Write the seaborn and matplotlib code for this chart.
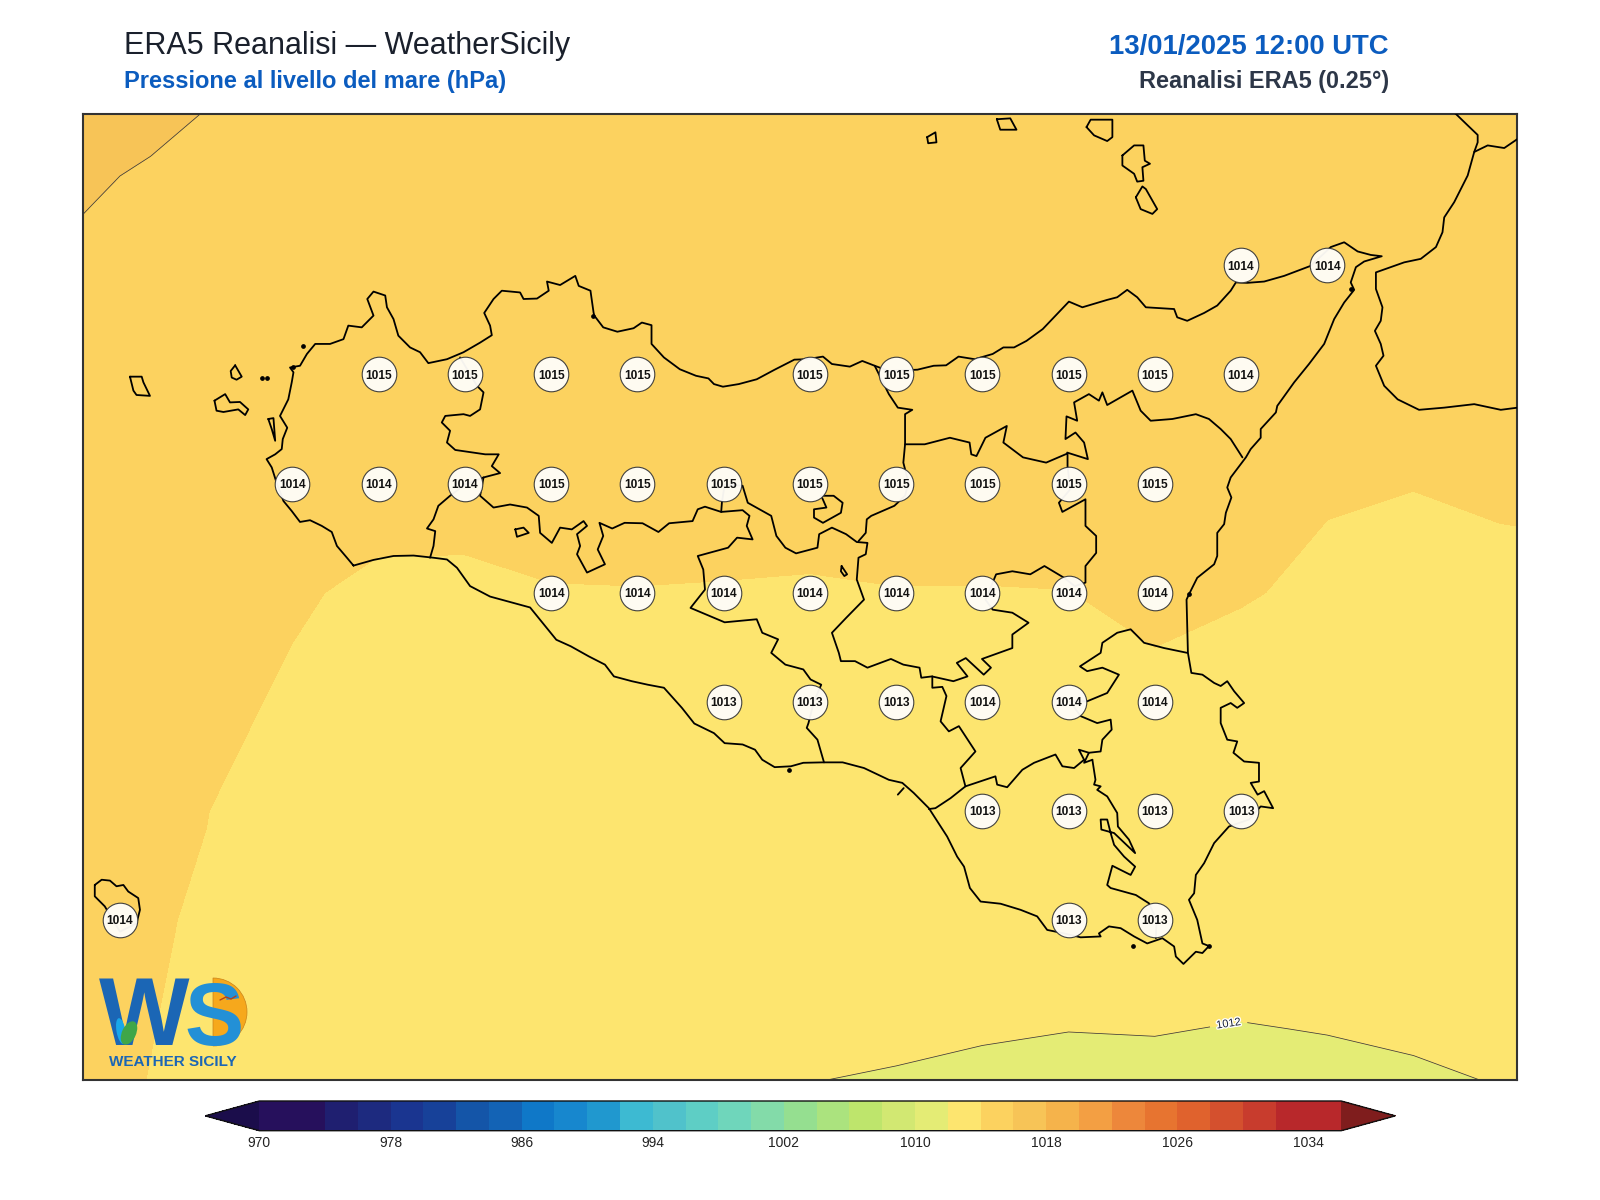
import numpy as np
import pandas as pd
import seaborn as sns
import matplotlib.pyplot as plt
import matplotlib.patheffects as pe
from matplotlib.colors import ListedColormap, BoundaryNorm
from matplotlib.patches import Wedge, Ellipse

# sea level pressure (hPa) on the 0.25 degree grid
grid_lon = [11.75, 12.0, 12.25, 12.5, 12.75, 13.0, 13.25, 13.5, 13.75, 14.0, 14.25, 14.5, 14.75, 15.0, 15.25, 15.5, 15.75, 16.0, 16.25]
grid_lat = [36.25, 36.5, 36.75, 37.0, 37.25, 37.5, 37.75, 38.0, 38.25, 38.5, 38.75]
slp_3625 = [1014.2, 1014.05, 1013.76, 1013.0, 1012.7, 1012.5, 1012.4, 1012.3, 1012.05, 1011.75, 1011.61, 1011.44, 1011.3, 1011.31, 1011.3, 1011.33, 1011.535, 1011.74, 1011.95]
slp_3650 = [1014.3, 1014.1, 1013.86, 1013.1, 1012.8, 1012.6, 1012.5, 1012.4, 1012.4, 1012.25, 1012.2, 1012.1, 1012.02, 1012.05, 1011.95, 1012.04, 1012.15, 1012.3, 1012.4]
slp_3675 = [1014.4, 1014.3, 1013.85, 1013.2, 1012.9, 1012.8, 1012.8, 1012.8, 1012.8, 1012.8, 1012.8, 1012.8, 1012.7, 1012.7, 1012.7, 1012.7, 1012.7, 1012.7, 1012.8]
slp_3700 = [1014.5, 1014.3, 1014.03, 1013.2, 1013.0, 1012.9, 1012.9, 1012.9, 1012.9, 1013.0, 1013.0, 1013.1, 1013.2, 1013.2, 1012.9, 1012.8, 1012.8, 1012.8, 1012.9]
slp_3725 = [1014.6, 1014.4, 1014.27, 1013.86, 1013.5, 1013.3, 1013.2, 1013.3, 1013.3, 1013.4, 1013.4, 1013.7, 1013.6, 1013.7, 1013.0, 1013.0, 1013.1, 1013.2, 1013.3]
slp_3750 = [1014.8, 1014.5, 1014.3, 1014.12, 1013.8, 1013.76, 1013.94, 1013.955, 1013.9, 1013.83, 1013.95, 1013.94, 1013.98, 1014.3, 1014.16, 1013.6, 1013.6, 1013.79, 1013.8]
slp_3775 = [1015.0, 1014.7, 1014.5, 1014.3, 1014.4, 1014.45, 1014.6, 1014.7, 1014.8, 1014.8, 1014.8, 1014.8, 1014.7, 1014.6, 1014.4, 1014.2, 1014.03, 1014.12, 1014.2]
slp_3800 = [1015.5, 1015.2, 1015.0, 1014.9, 1014.7, 1014.6, 1014.8, 1014.9, 1014.9, 1014.9, 1014.9, 1014.8, 1014.8, 1014.6, 1014.4, 1014.2, 1014.2, 1014.3, 1014.3]
slp_3825 = [1016.0, 1015.5, 1015.3, 1015.2, 1015.1, 1015.1, 1015.1, 1015.0, 1015.0, 1015.0, 1014.9, 1014.8, 1014.7, 1014.6, 1014.4, 1014.3, 1014.4, 1014.4, 1014.4]
slp_3850 = [1016.4, 1016.11, 1015.8, 1015.6, 1015.5, 1015.4, 1015.3, 1015.3, 1015.2, 1015.2, 1015.1, 1015.0, 1014.9, 1014.8, 1014.7, 1014.6, 1014.6, 1014.6, 1014.6]
slp_3875 = [1016.7, 1016.5, 1016.26, 1015.95, 1015.8, 1015.7, 1015.6, 1015.5, 1015.4, 1015.4, 1015.3, 1015.2, 1015.1, 1015.0, 1014.9, 1014.8, 1014.8, 1014.8, 1014.8]

# rounded values printed in the white discs
station_lon = [15.25, 15.5,
               12.75, 13.0, 13.25, 13.5, 14.0, 14.25, 14.5, 14.75, 15.0, 15.25,
               12.5, 12.75, 13.0, 13.25, 13.5, 13.75, 14.0, 14.25, 14.5, 14.75, 15.0,
               13.25, 13.5, 13.75, 14.0, 14.25, 14.5, 14.75, 15.0,
               13.75, 14.0, 14.25, 14.5, 14.75, 15.0,
               14.5, 14.75, 15.0, 15.25,
               12.0, 14.75, 15.0]
station_lat = [38.25, 38.25,
               38.0, 38.0, 38.0, 38.0, 38.0, 38.0, 38.0, 38.0, 38.0, 38.0,
               37.75, 37.75, 37.75, 37.75, 37.75, 37.75, 37.75, 37.75, 37.75, 37.75, 37.75,
               37.5, 37.5, 37.5, 37.5, 37.5, 37.5, 37.5, 37.5,
               37.25, 37.25, 37.25, 37.25, 37.25, 37.25,
               37.0, 37.0, 37.0, 37.0,
               36.75, 36.75, 36.75]
station_slp = [1014, 1014,
               1015, 1015, 1015, 1015, 1015, 1015, 1015, 1015, 1015, 1014,
               1014, 1014, 1014, 1015, 1015, 1015, 1015, 1015, 1015, 1015, 1015,
               1014, 1014, 1014, 1014, 1014, 1014, 1014, 1014,
               1013, 1013, 1013, 1014, 1014, 1014,
               1013, 1013, 1013, 1013,
               1014, 1013, 1013]

# colour of each 2 hPa band, 970 to 1036
band_colors = ['#26105C', '#26105C', '#1F1F70', '#1D2A7F', '#1A3590', '#174199', '#1455A8', '#1363B5',
               '#0F78C8', '#1787CE', '#2098CF', '#3DBAD2', '#50C2CB', '#5ECEC5', '#6FD6BB', '#83DBA9',
               '#95DF90', '#ABE37E', '#BEE56C', '#D2E872', '#E4EC75', '#FDE56F', '#FCD25F', '#F7C457',
               '#F5B34B', '#F39F43', '#ED873B', '#E77430', '#E0622D', '#D4502E', '#C83C2D', '#B8282B',
               '#B8282B']
levels = list(range(970, 1038, 2))
cbar_ticks = [970, 978, 986, 994, 1002, 1010, 1018, 1026, 1034]

# coast and province outlines (lon, lat)
sicily = [
    (12.677, 37.562), (12.658, 37.580), (12.629, 37.607), (12.614, 37.639), (12.585, 37.653), (12.551, 37.666),
    (12.522, 37.662), (12.498, 37.687), (12.474, 37.710), (12.454, 37.752), (12.440, 37.787), (12.425, 37.806),
    (12.450, 37.817), (12.469, 37.829), (12.472, 37.852), (12.485, 37.878), (12.464, 37.905), (12.488, 37.943),
    (12.498, 37.982), (12.503, 38.005), (12.493, 38.016), (12.522, 38.020), (12.542, 38.047), (12.566, 38.070),
    (12.609, 38.070), (12.648, 38.081), (12.662, 38.112), (12.701, 38.108), (12.735, 38.135), (12.717, 38.173),
    (12.735, 38.190), (12.769, 38.181), (12.774, 38.154), (12.793, 38.127), (12.807, 38.089), (12.841, 38.062),
    (12.870, 38.051), (12.894, 38.026), (12.948, 38.035), (12.996, 38.051), (13.044, 38.073), (13.078, 38.090),
    (13.073, 38.112), (13.056, 38.141), (13.083, 38.173), (13.107, 38.192), (13.160, 38.188), (13.170, 38.173),
    (13.209, 38.174), (13.243, 38.192), (13.238, 38.213), (13.276, 38.205), (13.320, 38.226), (13.330, 38.203),
    (13.364, 38.192), (13.373, 38.142), (13.375, 38.135), (13.401, 38.108), (13.442, 38.098), (13.489, 38.106),
    (13.513, 38.119), (13.541, 38.113), (13.541, 38.070), (13.577, 38.039), (13.623, 38.012), (13.670, 37.997),
    (13.706, 37.991), (13.722, 37.978), (13.748, 37.972), (13.794, 37.978), (13.846, 37.989), (13.898, 38.011),
    (13.955, 38.034), (13.991, 38.035), (14.038, 38.041), (14.064, 38.024), (14.116, 38.018), (14.152, 38.031),
    (14.188, 38.020), (14.229, 38.008), (14.312, 38.011), (14.359, 38.020), (14.395, 38.021), (14.431, 38.041),
    (14.478, 38.035), (14.530, 38.047), (14.561, 38.062), (14.592, 38.062), (14.628, 38.077), (14.675, 38.104),
    (14.751, 38.167), (14.790, 38.154), (14.862, 38.171), (14.891, 38.177), (14.920, 38.194), (14.949, 38.177),
    (14.974, 38.154), (15.056, 38.150), (15.065, 38.131), (15.094, 38.123), (15.143, 38.141), (15.181, 38.158),
    (15.220, 38.192), (15.235, 38.211), (15.268, 38.210), (15.317, 38.213), (15.375, 38.226), (15.452, 38.249),
    (15.510, 38.292), (15.549, 38.303), (15.588, 38.282), (15.626, 38.274), (15.658, 38.271), (15.607, 38.259),
    (15.583, 38.246), (15.568, 38.211), (15.578, 38.194), (15.549, 38.165), (15.520, 38.127), (15.491, 38.070),
    (15.447, 38.024), (15.404, 37.982), (15.355, 37.928), (15.351, 37.913), (15.307, 37.875), (15.307, 37.855),
    (15.278, 37.829), (15.264, 37.810), (15.220, 37.764), (15.210, 37.741), (15.222, 37.718), (15.206, 37.683),
    (15.201, 37.657), (15.181, 37.637), (15.181, 37.584), (15.172, 37.565), (15.123, 37.534), (15.099, 37.496),
    (15.092, 37.484), (15.096, 37.362), (15.106, 37.316), (15.138, 37.312), (15.172, 37.293), (15.191, 37.286),
    (15.210, 37.297), (15.230, 37.274), (15.259, 37.247), (15.239, 37.236), (15.220, 37.247), (15.191, 37.236),
    (15.191, 37.201), (15.210, 37.163), (15.239, 37.159), (15.228, 37.133), (15.259, 37.113), (15.302, 37.110),
    (15.302, 37.067), (15.278, 37.064), (15.298, 37.037), (15.317, 37.045), (15.343, 37.006), (15.307, 37.010),
    (15.273, 36.980), (15.215, 36.964), (15.172, 36.926), (15.143, 36.880), (15.119, 36.853), (15.114, 36.811),
    (15.099, 36.796), (15.123, 36.750), (15.138, 36.696), (15.157, 36.690), (15.138, 36.674), (15.119, 36.677),
    (15.083, 36.649), (15.061, 36.666), (15.056, 36.689), (15.022, 36.708), (14.978, 36.696), (14.940, 36.712),
    (14.901, 36.731), (14.867, 36.735), (14.838, 36.719), (14.843, 36.712), (14.785, 36.710), (14.737, 36.719),
    (14.688, 36.727), (14.659, 36.758), (14.611, 36.773), (14.553, 36.787), (14.495, 36.792), (14.464, 36.823),
    (14.447, 36.872), (14.427, 36.895), (14.398, 36.941), (14.345, 37.006), (14.301, 37.041), (14.268, 37.064),
    (14.229, 37.071), (14.157, 37.098), (14.095, 37.111), (14.038, 37.111), (13.981, 37.110), (13.945, 37.102),
    (13.898, 37.100), (13.862, 37.117), (13.841, 37.140), (13.805, 37.152), (13.753, 37.155), (13.722, 37.178),
    (13.665, 37.200), (13.629, 37.236), (13.577, 37.282), (13.530, 37.289), (13.484, 37.297), (13.432, 37.308),
    (13.406, 37.335), (13.359, 37.354), (13.307, 37.377), (13.265, 37.392), (13.189, 37.466), (13.073, 37.491),
    (13.015, 37.515), (12.977, 37.557), (12.948, 37.576), (12.909, 37.580), (12.851, 37.585), (12.793, 37.584),
    (12.735, 37.575), (12.677, 37.562)]
trapani_border = [
    (12.986, 38.039), (13.035, 37.974), (13.054, 37.959), (13.044, 37.920), (13.015, 37.905), (12.996, 37.909),
    (12.943, 37.905), (12.933, 37.890), (12.957, 37.871), (12.948, 37.844), (12.972, 37.827), (13.059, 37.817),
    (13.098, 37.817), (13.078, 37.790), (13.102, 37.774), (13.054, 37.764), (13.001, 37.748), (12.957, 37.722),
    (12.923, 37.699), (12.909, 37.668), (12.890, 37.647), (12.914, 37.641), (12.909, 37.607), (12.899, 37.580)]
agrigento_border = [
    (13.054, 37.764), (13.044, 37.722), (13.083, 37.695), (13.131, 37.702), (13.180, 37.695), (13.214, 37.676),
    (13.218, 37.637), (13.252, 37.614), (13.276, 37.649), (13.310, 37.645), (13.344, 37.664), (13.354, 37.653),
    (13.325, 37.634), (13.334, 37.607), (13.325, 37.588), (13.354, 37.546), (13.406, 37.565), (13.385, 37.599),
    (13.401, 37.630), (13.390, 37.660), (13.427, 37.647), (13.463, 37.660), (13.515, 37.659), (13.561, 37.639),
    (13.592, 37.659), (13.660, 37.664), (13.675, 37.691), (13.696, 37.697), (13.743, 37.685), (13.805, 37.689),
    (13.825, 37.676), (13.817, 37.653), (13.834, 37.622), (13.789, 37.626), (13.763, 37.603), (13.675, 37.584),
    (13.691, 37.553), (13.696, 37.507), (13.654, 37.465), (13.711, 37.446), (13.753, 37.432), (13.846, 37.439),
    (13.862, 37.408), (13.908, 37.393), (13.888, 37.362), (13.929, 37.335), (13.981, 37.324), (14.002, 37.301),
    (14.033, 37.289), (14.012, 37.251), (13.996, 37.201), (13.991, 37.190), (14.022, 37.163), (14.041, 37.111)]
palermo_border = [
    (13.743, 37.685), (13.745, 37.706), (13.753, 37.748), (13.805, 37.745), (13.820, 37.706), (13.888, 37.676),
    (13.903, 37.630), (13.929, 37.603), (13.960, 37.590), (14.022, 37.603), (14.027, 37.634), (14.064, 37.649),
    (14.105, 37.634), (14.136, 37.616), (14.167, 37.614), (14.162, 37.588), (14.141, 37.580), (14.136, 37.530),
    (14.157, 37.484), (14.105, 37.442), (14.064, 37.408), (14.084, 37.362), (14.090, 37.343), (14.131, 37.343),
    (14.167, 37.328), (14.235, 37.348), (14.271, 37.335), (14.318, 37.328), (14.323, 37.305), (14.354, 37.308),
    (14.416, 37.297), (14.457, 37.308), (14.426, 37.339), (14.452, 37.350), (14.504, 37.312), (14.525, 37.328),
    (14.499, 37.348), (14.587, 37.373), (14.587, 37.404), (14.634, 37.431), (14.587, 37.454), (14.530, 37.461),
    (14.509, 37.484), (14.540, 37.542), (14.587, 37.549), (14.639, 37.542), (14.680, 37.561), (14.737, 37.534),
    (14.768, 37.515), (14.799, 37.523), (14.799, 37.561), (14.830, 37.591), (14.830, 37.630), (14.799, 37.653),
    (14.799, 37.714), (14.732, 37.685), (14.722, 37.706), (14.755, 37.737), (14.747, 37.790), (14.747, 37.819),
    (14.685, 37.798), (14.618, 37.810), (14.561, 37.844), (14.571, 37.882), (14.509, 37.855), (14.483, 37.813),
    (14.468, 37.817), (14.463, 37.844), (14.406, 37.855), (14.333, 37.840), (14.276, 37.840)]
messina_west = [
    (14.188, 38.020), (14.229, 37.955), (14.255, 37.924), (14.297, 37.919), (14.276, 37.909), (14.276, 37.840),
    (14.271, 37.798), (14.286, 37.752), (14.276, 37.722), (14.245, 37.699), (14.178, 37.676), (14.165, 37.668),
    (14.162, 37.637), (14.141, 37.618)]
messina_south = [
    (14.746, 37.821), (14.806, 37.806), (14.795, 37.844), (14.770, 37.867), (14.741, 37.852), (14.744, 37.904),
    (14.775, 37.894), (14.766, 37.936), (14.809, 37.955), (14.838, 37.940), (14.848, 37.959), (14.862, 37.930),
    (14.935, 37.963), (14.959, 37.917), (14.988, 37.894), (15.051, 37.898), (15.119, 37.909), (15.157, 37.898),
    (15.191, 37.875), (15.220, 37.852), (15.254, 37.810)]
ragusa_west = [
    (14.355, 37.308), (14.355, 37.282), (14.384, 37.284), (14.396, 37.263), (14.379, 37.205), (14.403, 37.182),
    (14.432, 37.194), (14.480, 37.136), (14.437, 37.098), (14.451, 37.056), (14.408, 37.029), (14.364, 37.006),
    (14.345, 37.004)]
ragusa_north = [
    (14.451, 37.056), (14.538, 37.079), (14.543, 37.060), (14.572, 37.054), (14.616, 37.094), (14.650, 37.110),
    (14.712, 37.129), (14.732, 37.102), (14.766, 37.098), (14.795, 37.117), (14.780, 37.140), (14.809, 37.133),
    (14.795, 37.110), (14.819, 37.117)]
catania_south = [
    (14.809, 37.133), (14.843, 37.136), (14.848, 37.163), (14.875, 37.186), (14.872, 37.209), (14.833, 37.201),
    (14.785, 37.217), (14.754, 37.251), (14.804, 37.251), (14.862, 37.270), (14.896, 37.312), (14.848, 37.328),
    (14.804, 37.320), (14.783, 37.331), (14.843, 37.362), (14.848, 37.385), (14.891, 37.408), (14.930, 37.416),
    (14.969, 37.385), (15.027, 37.373), (15.094, 37.362)]
ragusa_east = [
    (14.819, 37.117), (14.828, 37.071), (14.824, 37.060), (14.843, 37.056), (14.833, 37.048), (14.862, 37.033),
    (14.891, 36.995), (14.893, 36.964), (14.925, 36.934), (14.943, 36.903), (14.882, 36.949), (14.845, 36.957),
    (14.843, 36.980), (14.862, 36.980), (14.872, 36.949), (14.882, 36.922), (14.911, 36.895), (14.943, 36.872),
    (14.930, 36.853), (14.877, 36.874), (14.862, 36.830), (14.872, 36.823), (14.945, 36.807), (14.983, 36.788),
    (15.005, 36.750), (15.003, 36.708)]
enclave_north = [
    (14.033, 37.722), (14.069, 37.722), (14.095, 37.706), (14.090, 37.683), (14.038, 37.660), (14.012, 37.672),
    (14.012, 37.691), (14.048, 37.695), (14.033, 37.722)]
enclave_south = [(14.092, 37.561), (14.108, 37.542), (14.100, 37.538), (14.090, 37.549), (14.092, 37.561)]
enclave_west = [(13.146, 37.645), (13.170, 37.649), (13.185, 37.637), (13.151, 37.628), (13.146, 37.645)]
cape_tick = [(14.255, 37.037), (14.272, 37.052)]
stagnone = [(12.430, 37.898), (12.445, 37.900), (12.450, 37.848), (12.440, 37.875), (12.430, 37.898)]
marettimo = [(12.029, 37.995), (12.063, 37.995), (12.068, 37.982), (12.087, 37.951), (12.048, 37.953), (12.039, 37.963), (12.029, 37.995)]
levanzo = [(12.334, 38.021), (12.353, 37.995), (12.338, 37.988), (12.324, 37.993), (12.321, 38.008), (12.334, 38.021)]
favignana = [(12.274, 37.940), (12.305, 37.955), (12.319, 37.936), (12.348, 37.937), (12.372, 37.920), (12.363, 37.907),
             (12.343, 37.920), (12.300, 37.914), (12.280, 37.917), (12.274, 37.940)]
vulcano = [(14.945, 38.406), (14.964, 38.431), (14.974, 38.425), (15.007, 38.379), (14.993, 38.368), (14.959, 38.379), (14.945, 38.406)]
lipari = [(14.906, 38.502), (14.940, 38.525), (14.967, 38.525), (14.971, 38.490), (14.986, 38.483), (14.964, 38.475),
          (14.967, 38.444), (14.949, 38.442), (14.940, 38.460), (14.906, 38.479), (14.906, 38.502)]
salina = [(14.802, 38.567), (14.814, 38.584), (14.877, 38.584), (14.877, 38.544), (14.862, 38.535), (14.824, 38.548), (14.802, 38.567)]
filicudi = [(14.542, 38.585), (14.581, 38.587), (14.599, 38.561), (14.552, 38.561), (14.542, 38.585)]
alicudi = [(14.340, 38.544), (14.364, 38.555), (14.367, 38.532), (14.343, 38.530), (14.340, 38.544)]
pantelleria = [(11.927, 36.830), (11.947, 36.842), (11.971, 36.840), (11.990, 36.827), (12.010, 36.830), (12.024, 36.815),
               (12.053, 36.800), (12.058, 36.773), (12.048, 36.742), (12.000, 36.723), (11.956, 36.781), (11.927, 36.804),
               (11.927, 36.830)]
calabria = [
    (15.853, 38.609), (15.873, 38.597), (15.907, 38.571), (15.936, 38.549), (15.936, 38.532), (15.926, 38.510),
    (15.907, 38.456), (15.868, 38.395), (15.839, 38.360), (15.834, 38.326), (15.815, 38.292), (15.771, 38.265),
    (15.723, 38.257), (15.641, 38.234), (15.641, 38.196), (15.660, 38.154), (15.655, 38.123), (15.638, 38.100),
    (15.655, 38.070), (15.663, 38.043), (15.641, 38.020), (15.665, 37.974), (15.704, 37.943), (15.766, 37.919),
    (15.839, 37.924), (15.926, 37.932), (16.003, 37.919), (16.052, 37.924), (16.07, 37.924)]
calabria_north = [(15.926, 38.510), (15.965, 38.525), (16.013, 38.519), (16.052, 38.540), (16.07, 38.55)]
# tiny rocks and harbour blobs along the coast
speck_lon = [14.937, 12.530, 12.411, 12.427, 12.503, 13.371, 13.939, 15.570, 15.099, 15.157]
speck_lat = [36.690, 38.066, 37.993, 37.991, 38.016, 38.133, 37.094, 38.196, 37.496, 36.690]

outlines = [sicily, trapani_border, agrigento_border, palermo_border, messina_west, messina_south, ragusa_west,
            ragusa_north, catania_south, ragusa_east, enclave_north, enclave_south, enclave_west, cape_tick,
            stagnone, marettimo, levanzo, favignana, vulcano, lipari, salina, filicudi, alicudi, pantelleria,
            calabria, calabria_north]

sns.set_theme(style='white')
plt.rcParams['font.family'] = ['Liberation Sans', 'DejaVu Sans']

W, H = 1600, 1200
fig = plt.figure(figsize=(16, 12), dpi=100)
ax = fig.add_axes([82.7 / W, 1 - 1080 / H, 1434.3 / W, 966 / H])


def fx(px):
    return px / W


def fy(py):
    return 1 - py / H


cmap = ListedColormap(band_colors).with_extremes(under='#1B0D4B', over='#7F1D1D')
norm = BoundaryNorm(levels, len(band_colors))
slp = np.array([slp_3625, slp_3650, slp_3675, slp_3700, slp_3725, slp_3750, slp_3775, slp_3800, slp_3825, slp_3850, slp_3875])

filled = ax.contourf(grid_lon, grid_lat, slp, levels=levels, cmap=cmap, norm=norm, extend='both', zorder=1)
lines = ax.contour(grid_lon, grid_lat, slp, levels=[1012, 1016], colors='#3a3a3a', linewidths=0.55, zorder=2)
labels = ax.clabel(lines, [1012], manual=[(15.215, 36.507)], fmt='%d', fontsize=8, colors='#1a2238', inline=True)
for t in labels:
    t.set_path_effects([pe.withStroke(linewidth=2, foreground='white')])

for part in outlines:
    part_lon, part_lat = zip(*part)
    ax.plot(part_lon, part_lat, color='black', lw=1.3, solid_joinstyle='round', zorder=3)
ax.plot(speck_lon, speck_lat, ls='none', marker='o', ms=2.4, color='black', zorder=3)

stations = pd.DataFrame({'lon': station_lon, 'lat': station_lat, 'slp': station_slp})
sns.scatterplot(data=stations, x='lon', y='lat', s=620, color='#fffdf8', alpha=0.96, edgecolor='#3a3a3a',
                linewidth=0.8, legend=False, ax=ax, zorder=4)
for row in stations.itertuples():
    ax.text(row.lon, row.lat, str(row.slp), ha='center', va='center_baseline', fontsize=8.6, fontweight='bold',
            color='#111111', zorder=5)

ax.set_xlim(11.892, 16.05)
ax.set_ylim(36.383, 38.597)
ax.set_xlabel('')
ax.set_ylabel('')
ax.set_xticks([])
ax.set_yticks([])
for side in ax.spines.values():
    side.set_visible(True)
    side.set_color('#333333')
    side.set_linewidth(1.5)

# the colorbar shrinks inside its axes to leave room for the two tips
cax = fig.add_axes([205.3 / W, 1 - 1130.7 / H, 1190 / W, 29.7 / H])
cbar = fig.colorbar(filled, cax=cax, orientation='horizontal', ticks=cbar_ticks, extendfrac=0.05, drawedges=False)
cbar.ax.minorticks_off()
cbar.ax.tick_params(which='both', length=0, labelsize=10, pad=4, labelcolor='#222222')
cbar.ax.set_xticklabels([str(t) for t in cbar_ticks])
cbar.outline.set_edgecolor('#111111')
cbar.outline.set_linewidth(1.0)

fig.text(fx(124), fy(54), 'ERA5 Reanalisi \u2014 WeatherSicily', fontsize=22, color='#1a202c', ha='left', va='baseline')
fig.text(fx(124), fy(88), 'Pressione al livello del mare (hPa)', fontsize=17, fontweight='bold', color='#0b5cbf', ha='left', va='baseline')
fig.text(fx(1389), fy(54), '13/01/2025 12:00 UTC', fontsize=19.8, fontweight='bold', color='#0b5cbf', ha='right', va='baseline')
fig.text(fx(1389), fy(88), 'Reanalisi ERA5 (0.25\u00b0)', fontsize=16.9, fontweight='bold', color='#2d3748', ha='right', va='baseline')

# logo, drawn in figure pixels over the map
logo = fig.add_axes([0, 0, 1, 1], facecolor='none')
logo.set_xlim(0, W)
logo.set_ylim(H, 0)
logo.axis('off')
logo.add_patch(Wedge((213, 1012), 34, -90, 90, facecolor='#f6a81c', edgecolor='#c9821a', lw=0.5, zorder=1))
logo.text(144, 1045, 'W', fontsize=69, fontweight='bold', color='#1b66b5', ha='center', va='baseline', zorder=2)
logo.text(214, 1045, 'S', fontsize=64, fontweight='bold', color='#2390d6', ha='center', va='baseline', zorder=2)
logo.add_patch(Ellipse((121, 1031), 9, 26, angle=-10, facecolor='#19a7ea', edgecolor='none', zorder=3))
logo.add_patch(Ellipse((129, 1033), 14, 25, angle=25, facecolor='#3fa648', edgecolor='none', zorder=4))
logo.plot([220, 226, 231, 236], [1000, 997, 999, 996], color='#b5421a', lw=1.0, zorder=4)
logo.text(173, 1066, 'WEATHER SICILY', fontsize=11, fontweight='bold', color='#1b66b5', ha='center', va='baseline', zorder=2)

fig.savefig('out.png', dpi=100, facecolor='white')
